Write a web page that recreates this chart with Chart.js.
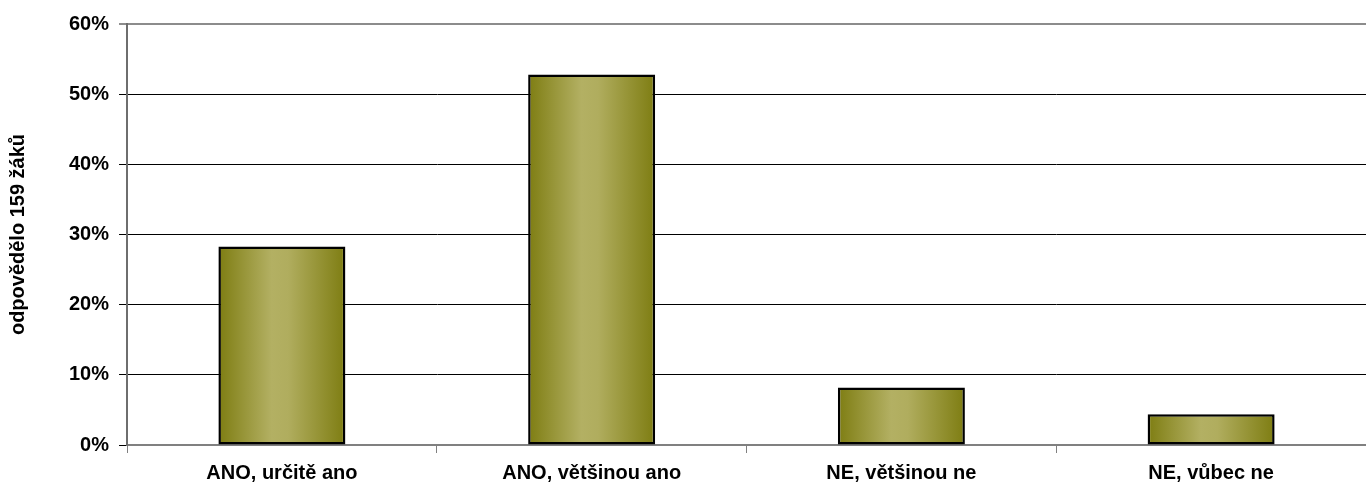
<!DOCTYPE html>
<html>
<head>
<meta charset="utf-8">
<script src="https://cdn.jsdelivr.net/npm/chart.js@4/dist/chart.umd.min.js"></script>
<style>
  body { margin: 0; background: #fff; }
  #wrap { width: 1366px; height: 486px; position: relative; }
</style>
</head>
<body>
<div id="wrap"><canvas id="chart"></canvas></div>
<script>
const categories = ["ANO, určitě ano", "ANO, většinou ano", "NE, většinou ne", "NE, vůbec ne"];
const shares = [28.3, 52.8, 8.2, 4.4];
const yTicks = [0, 10, 20, 30, 40, 50, 60];
const axisTitle = "odpovědělo 159 žáků";

const BAR_PCT = 0.41;

function barFill(ctx) {
  const chart = ctx.chart;
  const xs = chart.scales.x;
  if (!chart.chartArea || !xs) return "#9a9840";
  const cx = xs.getPixelForValue(ctx.dataIndex);
  const w = (xs.width / categories.length) * BAR_PCT;
  const g = chart.ctx.createLinearGradient(cx - w / 2, 0, cx + w / 2, 0);
  g.addColorStop(0, "#7e7d12");
  g.addColorStop(0.42, "#b3b063");
  g.addColorStop(0.55, "#b0ad5e");
  g.addColorStop(1, "#7e7d12");
  return g;
}

new Chart(document.getElementById("chart"), {
  type: "bar",
  data: {
    labels: categories,
    datasets: [{
      data: shares,
      backgroundColor: barFill,
      borderColor: "#000",
      borderWidth: 2.5,
      borderSkipped: false,
      barPercentage: BAR_PCT,
      categoryPercentage: 1
    }]
  },
  options: {
    responsive: true,
    maintainAspectRatio: false,
    animation: false,
    layout: { padding: { top: 24, right: 0, left: 6, bottom: -7 } },
    plugins: { legend: { display: false }, tooltip: { enabled: false } },
    scales: {
      x: {
        grid: { drawOnChartArea: false, offset: true, tickLength: 8, color: "#808080" },
        border: { color: "#808080", width: 2 },
        ticks: {
          color: "#000",
          font: { family: "Liberation Sans", size: 20, weight: "bold" },
          padding: 8,
          maxRotation: 0
        }
      },
      y: {
        min: 0,
        max: 60,
        afterBuildTicks: (s) => { s.ticks = yTicks.map(v => ({ value: v })); },
        grid: {
          color: (c) => c.tick && c.tick.value === 60 ? "#8c8c8c" : "#000",
          lineWidth: (c) => c.tick && c.tick.value === 60 ? 2 : 1,
          tickLength: 8
        },
        border: { color: "#6e6e6e", width: 2 },
        ticks: {
          color: "#000",
          font: { family: "Liberation Sans", size: 20, weight: "bold" },
          padding: 10,
          callback: (v) => v + "%"
        },
        title: {
          display: true,
          text: axisTitle,
          color: "#000",
          font: { family: "Liberation Sans", size: 20, weight: "bold" },
          padding: { top: 0, bottom: 29 }
        }
      }
    }
  }
});
</script>
</body>
</html>
